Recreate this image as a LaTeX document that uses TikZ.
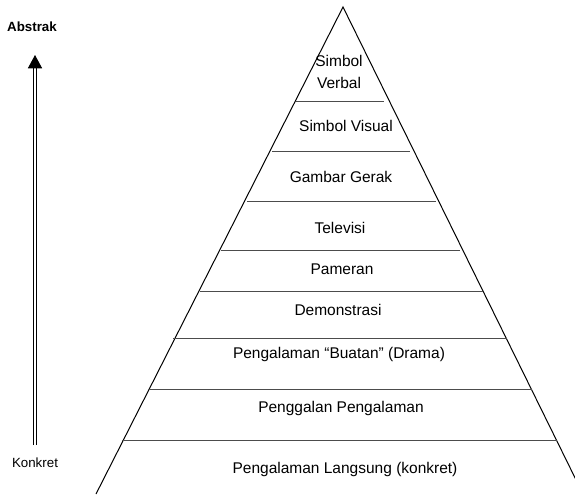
\documentclass[tikz,border=0pt]{standalone}
\usepackage{fontspec}
\setmainfont{Liberation Sans}
\usetikzlibrary{arrows.meta}
\tikzset{
    level/.style={font=\fontsize{9.3}{11.5}\selectfont, align=center},
    side/.style={font=\fontsize{8}{10}\selectfont},
    rung/.style={draw=black!70, line width=0.6pt}
}
\begin{document}
\begin{tikzpicture}[x=0.6pt,y=-0.6pt]
                \useasboundingbox (0,0) rectangle (575,494);
                % pyramid
                \coordinate (apex) at (343,7);
                \coordinate (baseL) at (96,494);
                \coordinate (baseR) at (583,494);
                \draw[line width=0.6pt] (baseL) -- (apex) -- (baseR);
                \foreach \y/\l/\r in {101/296/384,151/272/410,201/247/436,250/221/460,291/200/483,338/173/507,389/148/532,440/122/557}
                {
                    \draw[rung] (\l,\y) -- (\r,\y);
                }
                % labels
                \node[level] (verbal) at (339,72) {Simbol\\[2pt]Verbal};
                \node[level] (visual) at (346,126) {Simbol Visual};
                \node[level] (gerak) at (341,177) {Gambar Gerak};
                \node[level] (tv) at (340,228) {Televisi};
                \node[level] (pameran) at (342,269) {Pameran};
                \node[level] (demo) at (338,310) {Demonstrasi};
                \node[level] (drama) at (339,354) {Pengalaman “Buatan” (Drama)};
                \node[level] (penggalan) at (341,408) {Penggalan Pengalaman};
                \node[level] (langsung) at (345,469) {Pengalaman Langsung (konkret)};
                % axis
                \node[side, font=\fontsize{8}{10}\selectfont\bfseries] (abstrak) at (32,27) {Abstrak};
                \node[side] (konkret) at (35,463) {Konkret};
                \coordinate (up) at (35,55);
                \coordinate (down) at (35,445);
                \draw[double, double distance=1.4pt, line width=0.6pt, -{Triangle[length=8pt,width=8.5pt]}] (down) -- (up);
            \end{tikzpicture}
\end{document}
